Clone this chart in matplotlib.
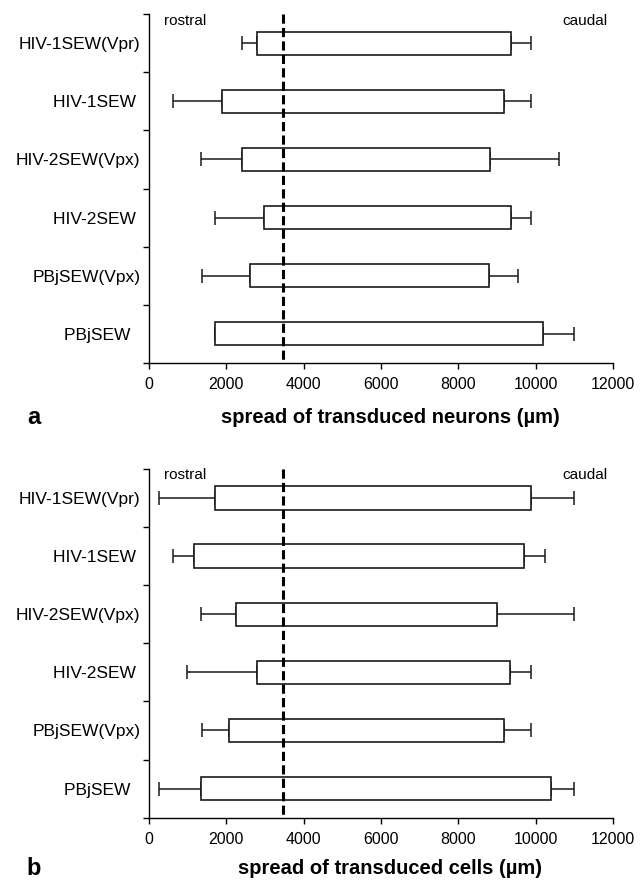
import numpy as np
import matplotlib
matplotlib.use("Agg")
import matplotlib.pyplot as plt

plt.rcParams['font.family'] = ['Liberation Sans', 'DejaVu Sans']

# Vector names, top to bottom
vectors = ['HIV-1SEW(Vpr)', 'HIV-1SEW ', 'HIV-2SEW(Vpx)', 'HIV-2SEW ', 'PBjSEW(Vpx)', 'PBjSEW  ']

# Panel a: transduced neurons (um)
neu_start = [2800, 1900, 2420, 2970, 2620, 1710]
neu_end = [9350, 9180, 8820, 9350, 8800, 10200]
neu_rostral_whisker = [2420, 620, 1360, 1700, 1370, 1710]
neu_caudal_whisker = [9890, 9890, 10600, 9890, 9540, 10980]

# Panel b: transduced cells (um)
cel_start = [1710, 1160, 2250, 2790, 2070, 1350]
cel_end = [9890, 9710, 9000, 9330, 9170, 10390]
cel_rostral_whisker = [270, 620, 1360, 990, 1370, 270]
cel_caudal_whisker = [10980, 10250, 10980, 9890, 9890, 10980]

injection_site = 3480
xticks = [0, 2000, 4000, 6000, 8000, 10000, 12000]

fig = plt.figure(figsize=(6.44, 8.83), dpi=100)
ax_a = fig.add_axes([0.231, 0.589, 0.721, 0.395])
ax_b = fig.add_axes([0.231, 0.074, 0.721, 0.395])

edge = '#1a1a1a'


def draw_panel(ax, start, end, wl, wr, xlabel, letter, label_y):
    start = np.array(start)
    end = np.array(end)
    y = np.arange(len(vectors))
    # whiskers: rostral side and caudal side
    ax.errorbar(start, y, xerr=[start - np.array(wl), np.zeros(len(y))],
                fmt='none', ecolor=edge, elinewidth=1.1, capsize=5, capthick=1.1, zorder=1)
    ax.errorbar(end, y, xerr=[np.zeros(len(y)), np.array(wr) - end],
                fmt='none', ecolor=edge, elinewidth=1.1, capsize=5, capthick=1.1, zorder=1)
    ax.barh(y, end - start, left=start, height=0.4, color='white',
            edgecolor=edge, linewidth=1.2, zorder=2)
    ax.vlines(injection_site, -0.5, 5.45, colors='black', linestyles=(0, (3, 1.4)),
              linewidth=2.2, zorder=3)

    ax.set_xlim(0, 12000)
    ax.set_ylim(5.5, -0.5)
    ax.set_xticks(xticks)
    ax.set_xticklabels([str(t) for t in xticks], fontsize=11.5)
    ax.set_yticks(np.arange(-0.5, 6, 1))
    ax.set_yticklabels([])
    ax.set_yticks(y, minor=True)
    ax.set_yticklabels(vectors, minor=True, fontsize=12.5)
    ax.tick_params(axis='y', which='minor', length=0, pad=6)
    ax.tick_params(axis='y', which='major', length=4, width=1, direction='out')
    ax.tick_params(axis='x', length=4, width=1, direction='out', pad=6)
    for s in ['top', 'right']:
        ax.spines[s].set_visible(False)
    for s in ['left', 'bottom']:
        ax.spines[s].set_linewidth(1)

    ax.text(930, -0.39, 'rostral', fontsize=11, ha='center', va='center')
    ax.text(11280, -0.39, 'caudal', fontsize=11, ha='center', va='center')
    fig.text(0.6056, label_y, xlabel, fontsize=14.5, fontweight='bold',
             ha='center', va='center')
    fig.text(0.053, label_y, letter, fontsize=17, fontweight='bold',
             ha='center', va='center')


draw_panel(ax_a, neu_start, neu_end, neu_rostral_whisker, neu_caudal_whisker,
           'spread of transduced neurons (µm)', 'a', 0.527)
draw_panel(ax_b, cel_start, cel_end, cel_rostral_whisker, cel_caudal_whisker,
           'spread of transduced cells (µm)', 'b', 0.016)

fig.savefig('out.png', dpi=100)
